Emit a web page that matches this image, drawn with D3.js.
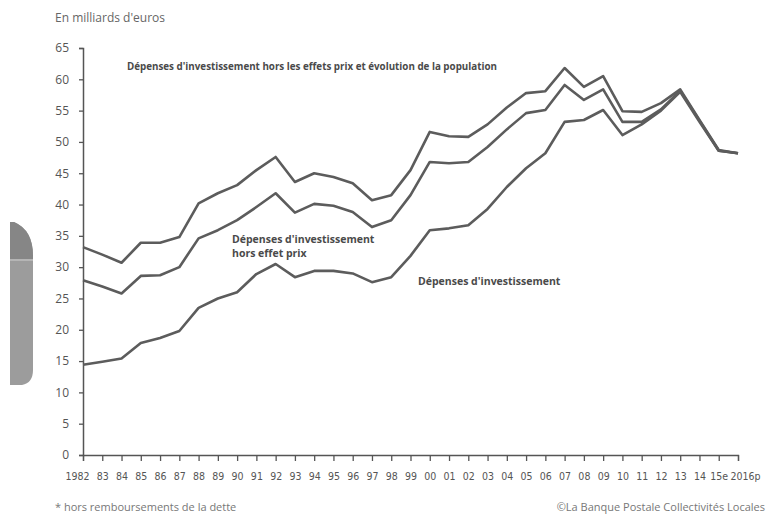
<!DOCTYPE html>
<html>
<head>
<meta charset="utf-8">
<script src="https://cdn.jsdelivr.net/npm/d3@7"></script>
<style>
  body { margin:0; background:#fff; }
  svg text { font-family: "Open Sans", "DejaVu Sans", sans-serif; }
</style>
</head>
<body>
<div id="chart"></div>
<script>
// years and their labels on the x axis
var years = d3.range(1982, 2017)
var yearLabels = ["1982","83","84","85","86","87","88","89","90","91","92","93","94","95","96","97","98","99",
  "00","01","02","03","04","05","06","07","08","09","10","11","12","13","14","15e","2016p"]
var yTicks = [0,5,10,15,20,25,30,35,40,45,50,55,60,65]

// en milliards d'euros
var depenses = [14.4,14.9,15.4,17.9,18.7,19.8,23.5,25.0,26.0,28.9,30.5,28.4,29.4,29.4,29.0,27.6,28.4,31.8,
  35.9,36.2,36.7,39.3,42.8,45.8,48.2,53.2,53.5,55.1,51.1,52.8,55.0,58.0,53.2,48.6,48.2]
var horsPrix = [27.9,26.9,25.8,28.6,28.7,30.0,34.6,35.9,37.5,39.6,41.8,38.7,40.1,39.8,38.8,36.4,37.5,41.5,
  46.8,46.6,46.8,49.2,52.0,54.6,55.1,59.1,56.7,58.4,53.2,53.2,55.2,58.2,53.4,48.6,48.2]
var horsPrixPop = [33.2,32.0,30.7,33.9,33.9,34.8,40.2,41.8,43.1,45.5,47.6,43.6,45.0,44.4,43.4,40.7,41.5,45.5,
  51.6,50.9,50.8,52.8,55.5,57.8,58.1,61.8,58.8,60.5,54.9,54.8,56.2,58.4,53.5,48.7,48.2]

var W = 767, H = 517
var m = {left:83, right:29, top:48, bottom:62}
var svg = d3.select("#chart").append("svg").attr("width", W).attr("height", H)

// scanned tab on the left edge
var tab = "M10,222 L14,222 Q33,230 33,256 L33,370 Q33,383 22,385 L10,385 Z"
svg.append("clipPath").attr("id", "tabclip").append("path").attr("d", tab)
var tg = svg.append("g").attr("clip-path", "url(#tabclip)")
tg.append("rect").attr("x",10).attr("y",222).attr("width",23).attr("height",163).attr("fill","#9c9c9c")
tg.append("rect").attr("x",10).attr("y",222).attr("width",23).attr("height",38).attr("fill","#868686")
tg.append("rect").attr("x",10).attr("y",259).attr("width",23).attr("height",2).attr("fill","#b5b5b5")

var x = d3.scaleLinear().domain([1982, 2016]).range([m.left, W - m.right])
var y = d3.scaleLinear().domain([0, 65]).range([H - m.bottom, m.top])

svg.append("text").attr("x", 55).attr("y", 22)
  .attr("font-size", 12).attr("fill", "#666").text("En milliards d'euros")

// y axis
var ya = svg.append("g").attr("transform", `translate(${m.left},0)`)
  .call(d3.axisLeft(y).tickValues(yTicks).tickSize(4).tickPadding(10))
ya.select(".domain").attr("stroke", "#555").attr("stroke-width", 1.5)
ya.selectAll(".tick line").attr("stroke", "#555").attr("stroke-width", 1.3)
ya.selectAll(".tick text").attr("font-size", 12).attr("fill", "#555")
  .style("font-family", "'Open Sans', sans-serif")

// x axis
var xa = svg.append("g").attr("transform", `translate(0,${y(0)})`)
  .call(d3.axisBottom(x).tickValues(years).tickSize(6).tickPadding(12)
    .tickFormat((d, i) => yearLabels[i]))
xa.select(".domain").attr("stroke", "#555").attr("stroke-width", 1.3)
xa.selectAll(".tick line").attr("stroke", "#555").attr("stroke-width", 1.3)
xa.selectAll(".tick text").attr("font-size", 10.5).attr("fill", "#555")
  .style("font-family", "'DejaVu Sans Condensed', 'Open Sans', sans-serif")
xa.selectAll(".tick text").filter(d => d === 1982).attr("dx", -6)
xa.selectAll(".tick text").filter(d => d === 2016).attr("dx", 7)

var line = d3.line().x((d, i) => x(years[i])).y(d => y(d))

;[horsPrixPop, horsPrix, depenses].forEach(s => {
  svg.append("path").datum(s)
    .attr("fill", "none").attr("stroke", "#5c5c5c").attr("stroke-width", 2.6)
    .attr("stroke-linejoin", "round").attr("d", line)
})

// series labels
var lab = (tx, lx, ly) => svg.append("text").attr("x", lx).attr("y", ly)
  .attr("font-size", 10.5).attr("font-weight", 700).attr("fill", "#4a4a4a").text(tx)
lab("Dépenses d'investissement hors les effets prix et évolution de la population", 127, 70)
  .attr("font-size", 9.8)
lab("Dépenses d'investissement", 232, 243)
lab("hors effet prix", 232, 257)
lab("Dépenses d'investissement", 418, 285)

// footnotes
svg.append("text").attr("x", 55).attr("y", 511).attr("font-size", 11).attr("fill", "#777")
  .text("* hors remboursements de la dette")
svg.append("text").attr("x", 765).attr("y", 511).attr("text-anchor", "end")
  .attr("font-size", 11).attr("fill", "#777").text("©La Banque Postale Collectivités Locales")
</script>
</body>
</html>
